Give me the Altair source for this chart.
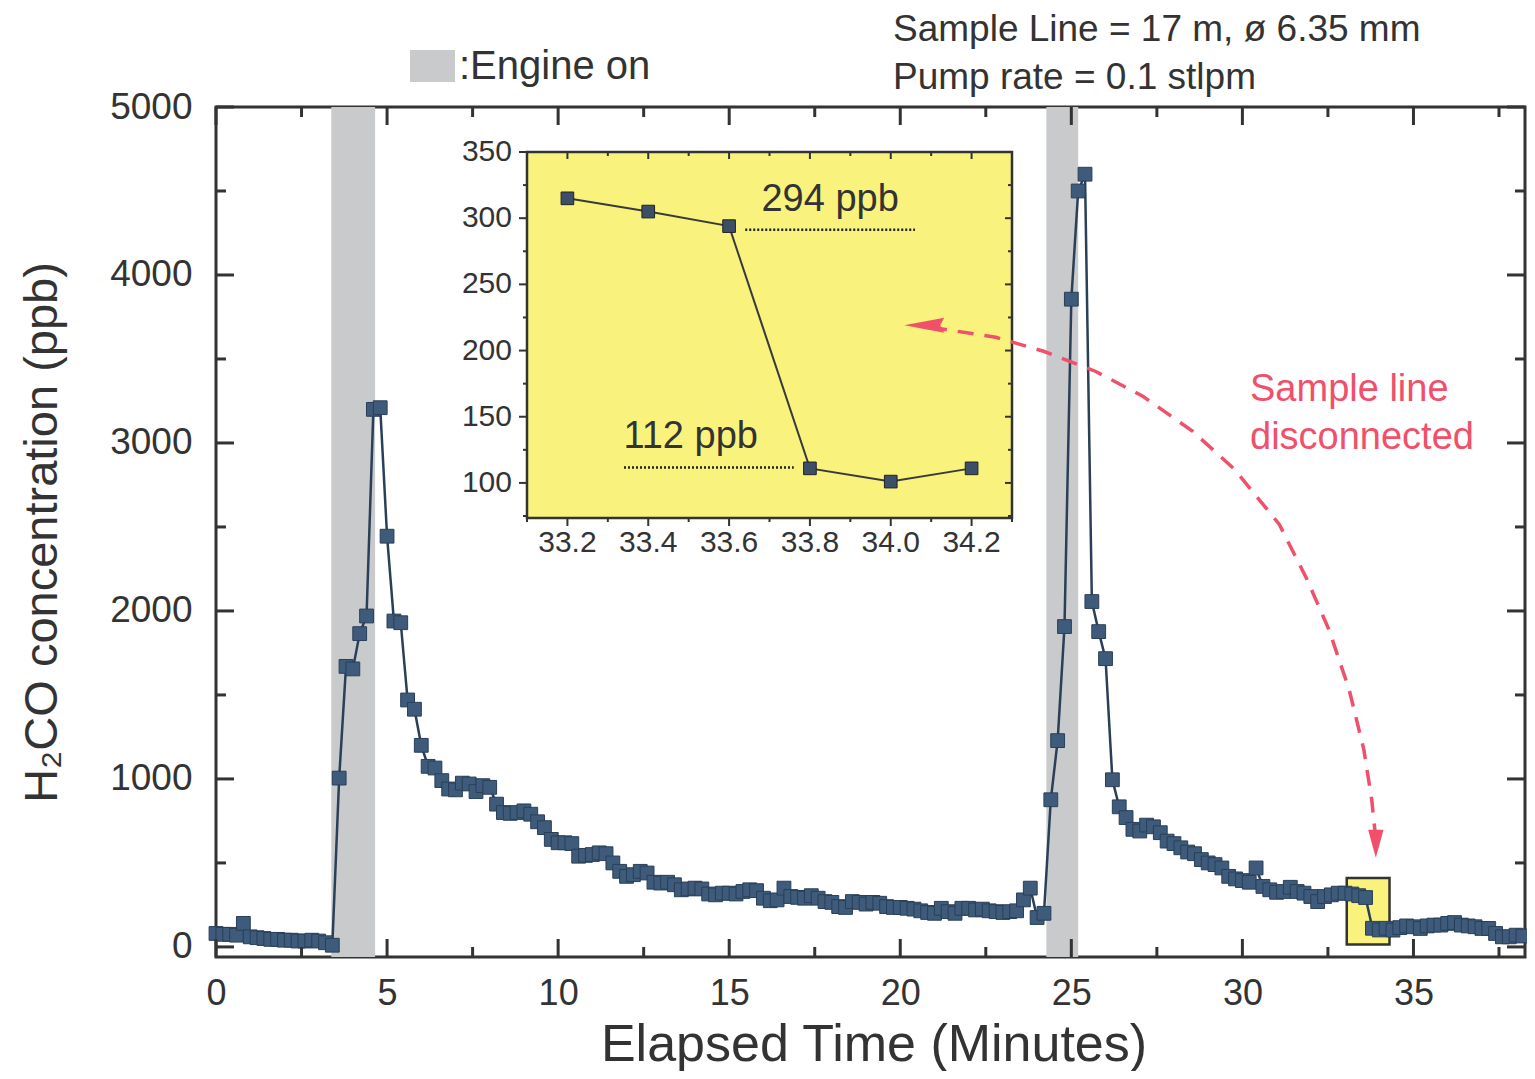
import altair as alt
import pandas as pd

# ---------------- data ----------------
time_min = [
    0.0, 0.2, 0.4, 0.6, 0.8, 1.0, 1.2, 1.4, 1.6, 1.8, 2.0, 2.2, 2.4, 2.6, 2.8, 3.0, 3.2, 3.4, 3.6, 3.8,
    4.0, 4.2, 4.4, 4.6, 4.8, 5.0, 5.2, 5.4, 5.6, 5.8, 6.0, 6.2, 6.4, 6.6, 6.8, 7.0, 7.2, 7.4, 7.6, 7.8,
    8.0, 8.2, 8.4, 8.6, 8.8, 9.0, 9.2, 9.4, 9.6, 9.8, 10.0, 10.2, 10.4, 10.6, 10.8, 11.0, 11.2, 11.4, 11.6, 11.8,
    12.0, 12.2, 12.4, 12.6, 12.8, 13.0, 13.2, 13.4, 13.6, 13.8, 14.0, 14.2, 14.4, 14.6, 14.8, 15.0, 15.2, 15.4, 15.6, 15.8,
    16.0, 16.2, 16.4, 16.6, 16.8, 17.0, 17.2, 17.4, 17.6, 17.8, 18.0, 18.2, 18.4, 18.6, 18.8, 19.0, 19.2, 19.4, 19.6, 19.8,
    20.0, 20.2, 20.4, 20.6, 20.8, 21.0, 21.2, 21.4, 21.6, 21.8, 22.0, 22.2, 22.4, 22.6, 22.8, 23.0, 23.2, 23.4, 23.6, 23.8,
    24.0, 24.2, 24.4, 24.6, 24.8, 25.0, 25.2, 25.4, 25.6, 25.8, 26.0, 26.2, 26.4, 26.6, 26.8, 27.0, 27.2, 27.4, 27.6, 27.8,
    28.0, 28.2, 28.4, 28.6, 28.8, 29.0, 29.2, 29.4, 29.6, 29.8, 30.0, 30.2, 30.4, 30.6, 30.8, 31.0, 31.2, 31.4, 31.6, 31.8,
    32.0, 32.2, 32.4, 32.6, 32.8, 33.0, 33.2, 33.4, 33.6, 33.8, 34.0, 34.2, 34.4, 34.6, 34.8, 35.0, 35.2, 35.4, 35.6, 35.8,
    36.0, 36.2, 36.4, 36.6, 36.8, 37.0, 37.2, 37.4, 37.6, 37.8, 38.0, 38.2,
]
h2co_ppb = [
    80, 75, 75, 70, 140, 60, 55, 50, 45, 45, 40, 40, 35, 35, 40, 35, 25, 10, 1005, 1670,
    1655, 1865, 1970, 3200, 3210, 2445, 1940, 1930, 1470, 1415, 1200, 1075, 1065, 990, 940, 935, 975, 970, 925, 960,
    950, 850, 800, 795, 800, 810, 790, 745, 710, 640, 620, 620, 615, 540, 545, 550, 560, 555, 500, 450,
    420, 430, 450, 440, 385, 380, 385, 370, 340, 345, 350, 345, 315, 310, 320, 320, 315, 330, 340, 335,
    290, 275, 280, 350, 300, 295, 290, 305, 290, 270, 265, 240, 235, 270, 265, 255, 265, 260, 240, 235,
    235, 230, 225, 215, 205, 200, 230, 210, 200, 230, 230, 220, 225, 215, 210, 205, 210, 215, 280, 350,
    175, 200, 876, 1228, 1907, 3856, 4500, 4600, 2056, 1877, 1716, 995, 834, 770, 700, 690, 725, 715, 680, 630,
    615, 590, 565, 555, 520, 500, 490, 470, 420, 405, 395, 385, 470, 360, 340, 325, 330, 355, 330, 320,
    300, 270, 300, 310, 320, 320, 315, 305, 294, 111, 101, 111, 100, 115, 125, 120, 110, 125, 130, 130,
    140, 145, 130, 125, 120, 110, 110, 80, 60, 60, 70, 65,
]

engine_on_start = [3.37, 24.27]
engine_on_end = [4.65, 25.20]

zoom_box_x = [33.05, 34.30]
zoom_box_y = [15, 410]

inset_time = [33.2, 33.4, 33.6, 33.8, 34.0, 34.2]
inset_ppb = [315, 305, 294, 111, 101, 111]

inset_ref_labels = ["294 ppb", "112 ppb"]
inset_ref_label_x = [33.85, 33.505]
inset_ref_label_y = [313.5, 134.7]
inset_ref_line_x0 = [33.64, 33.34]
inset_ref_line_x1 = [34.06, 33.76]
inset_ref_line_y = [291.3, 111.6]

main_x_ticks = [0, 5, 10, 15, 20, 25, 30, 35]
main_x_minor = [2.5, 7.5, 12.5, 17.5, 22.5, 27.5, 32.5, 37.5]
main_y_ticks = [0, 1000, 2000, 3000, 4000, 5000]
main_y_minor = [500, 1500, 2500, 3500, 4500]

inset_x_ticks = [33.2, 33.4, 33.6, 33.8, 34.0, 34.2]
inset_x_tick_labels = ["33.2", "33.4", "33.6", "33.8", "34.0", "34.2"]
inset_x_minor = [33.1, 33.3, 33.5, 33.7, 33.9, 34.1, 34.3]
inset_y_ticks = [100, 150, 200, 250, 300, 350]
inset_y_tick_labels = ["100", "150", "200", "250", "300", "350"]
inset_y_minor = [75, 125, 175, 225, 275, 325]

arrow_x = [20.90, 22.79, 24.19, 25.70, 27.09, 28.55, 29.77, 31.08, 31.89, 32.53, 33.12, 33.55, 33.78, 33.90]
arrow_y = [3689, 3629, 3546, 3427, 3278, 3069, 2843, 2515, 2187, 1889, 1532, 1174, 876, 638]
arrowhead_x = [20.70, 33.90]
arrowhead_y = [3701, 614]

# ---------------- layout / style ----------------
W, H = 1309, 850
FONT = "Liberation Sans"
INK = "#333333"
SERIES = "#3e5b7b"
SERIES_EDGE = "#2a3f58"
RED = "#F0506A"
GRAY = "#C9CACB"
YELLOW = "#F9F37E"

xs = alt.Scale(domain=[0, 38.26], nice=False, zero=False)
ys = alt.Scale(domain=[-60, 5000], nice=False, zero=False)
xi = alt.Scale(domain=[33.1, 34.3], range=[311, 796], nice=False, zero=False)
yi = alt.Scale(domain=[73.5, 350], range=[411, 45], nice=False, zero=False)

main_df = pd.DataFrame({"t": time_min, "c": h2co_ppb})
bands_df = pd.DataFrame({"s": engine_on_start, "e": engine_on_end})
box_df = pd.DataFrame({"x0": [zoom_box_x[0]], "x1": [zoom_box_x[1]], "y0": [zoom_box_y[0]], "y1": [zoom_box_y[1]]})
inset_df = pd.DataFrame({"t": inset_time, "c": inset_ppb})

bands = alt.Chart(bands_df).mark_rect(color=GRAY).encode(
    x=alt.X("s:Q", scale=xs, axis=None), x2="e:Q", y=alt.value(0), y2=alt.value(H)
)

zoom_box = alt.Chart(box_df).mark_rect(fill=YELLOW, stroke=INK, strokeWidth=2.5).encode(
    x=alt.X("x0:Q", scale=xs, axis=None), x2="x1:Q",
    y=alt.Y("y0:Q", scale=ys, axis=None), y2="y1:Q",
)

main_line = alt.Chart(main_df).mark_line(color=SERIES_EDGE, strokeWidth=2.5).encode(
    x=alt.X("t:Q", scale=xs, axis=alt.Axis(
        values=main_x_ticks, format="d", title="Elapsed Time (Minutes)", ticks=False, tickSize=0, domain=False,
        grid=False, labelFontSize=36, labelPadding=36, labelBaseline="middle", labelFlush=False,
        labelColor=INK, labelFont=FONT, titleFont=FONT, titleFontSize=52, titleFontWeight="normal",
        titleColor=INK, titleBaseline="alphabetic", titleY=103, titleX=W / 2 + 3)),
    y=alt.Y("c:Q", scale=ys, axis=alt.Axis(
        values=main_y_ticks, format="d", title="H₂CO concentration (ppb)", ticks=False, tickSize=0, domain=False,
        grid=False, labelFontSize=37, labelPadding=24, labelFlush=False, labelColor=INK, labelFont=FONT,
        titleFont=FONT, titleFontSize=47, titleFontWeight="normal", titleColor=INK,
        titleAngle=270, titleAlign="center", titleBaseline="alphabetic", titleX=-160, titleY=425)),
)

main_pts = alt.Chart(main_df).mark_point(
    shape="square", filled=True, size=190, color=SERIES, stroke=SERIES_EDGE, strokeWidth=1, opacity=1
).encode(x=alt.X("t:Q", scale=xs, axis=None), y=alt.Y("c:Q", scale=ys, axis=None))


def xticks(vals, scale, y0, y1, width=3):
    return alt.Chart(pd.DataFrame({"v": vals})).mark_rule(color=INK, strokeWidth=width).encode(
        x=alt.X("v:Q", scale=scale, axis=None), y=alt.value(y0), y2=alt.value(y1))


def yticks(vals, scale, x0, x1, width=3):
    return alt.Chart(pd.DataFrame({"v": vals})).mark_rule(color=INK, strokeWidth=width).encode(
        y=alt.Y("v:Q", scale=scale, axis=None), x=alt.value(x0), x2=alt.value(x1))


main_ticks = [
    xticks(main_x_ticks, xs, H, H - 18), xticks(main_x_minor, xs, H, H - 10),
    xticks(main_x_ticks, xs, 0, 18), xticks(main_x_minor, xs, 0, 10),
    yticks(main_y_ticks, ys, 0, 18), yticks(main_y_minor, ys, 0, 10),
    yticks(main_y_ticks, ys, W, W - 18), yticks(main_y_minor, ys, W, W - 10),
]

# ---------------- inset ----------------
inset_bg = alt.Chart(pd.DataFrame({"x0": [33.1], "x1": [34.3], "y0": [73.5], "y1": [350]})).mark_rect(
    fill=YELLOW, stroke=INK, strokeWidth=2.5
).encode(x=alt.X("x0:Q", scale=xi, axis=None), x2="x1:Q", y=alt.Y("y0:Q", scale=yi, axis=None), y2="y1:Q")

inset_ticks = [
    xticks(inset_x_ticks, xi, 411, 419, 2), xticks(inset_x_minor, xi, 411, 415, 2),
    xticks(inset_x_ticks, xi, 45, 52, 2), xticks(inset_x_minor, xi, 45, 49, 2),
    yticks(inset_y_ticks, yi, 311, 303, 2), yticks(inset_y_minor, yi, 311, 307, 2),
    yticks(inset_y_ticks, yi, 796, 789, 2), yticks(inset_y_minor, yi, 796, 792, 2),
]

inset_xlab = alt.Chart(pd.DataFrame({"v": inset_x_ticks, "lab": inset_x_tick_labels})).mark_text(
    font=FONT, fontSize=30, color=INK, align="center", baseline="middle"
).encode(x=alt.X("v:Q", scale=xi, axis=None), y=alt.value(436), text="lab:N")

inset_ylab = alt.Chart(pd.DataFrame({"v": inset_y_ticks, "lab": inset_y_tick_labels})).mark_text(
    font=FONT, fontSize=30, color=INK, align="right", baseline="middle"
).encode(y=alt.Y("v:Q", scale=yi, axis=None), x=alt.value(296), text="lab:N")

ref_df = pd.DataFrame({"x0": inset_ref_line_x0, "x1": inset_ref_line_x1, "y": inset_ref_line_y,
                       "lx": inset_ref_label_x, "ly": inset_ref_label_y, "lab": inset_ref_labels})
inset_ref_lines = alt.Chart(ref_df).mark_rule(color="#222222", strokeWidth=2.5, strokeDash=[2, 2]).encode(
    x=alt.X("x0:Q", scale=xi, axis=None), x2="x1:Q", y=alt.Y("y:Q", scale=yi, axis=None))
inset_ref_text = alt.Chart(ref_df).mark_text(font=FONT, fontSize=38, color=INK, align="center",
                                              baseline="middle").encode(
    x=alt.X("lx:Q", scale=xi, axis=None), y=alt.Y("ly:Q", scale=yi, axis=None), text="lab:N")

inset_line = alt.Chart(inset_df).mark_line(color="#3a3a3a", strokeWidth=2).encode(
    x=alt.X("t:Q", scale=xi, axis=None), y=alt.Y("c:Q", scale=yi, axis=None))
inset_pts = alt.Chart(inset_df).mark_point(
    shape="square", filled=True, size=160, color="#3d4f66", stroke="#222", strokeWidth=1, opacity=1
).encode(x=alt.X("t:Q", scale=xi, axis=None), y=alt.Y("c:Q", scale=yi, axis=None))

# ---------------- annotations ----------------
arrow_df = pd.DataFrame({"x": arrow_x, "y": arrow_y, "i": list(range(len(arrow_x)))})
arrow = alt.Chart(arrow_df).mark_line(color=RED, strokeWidth=3.5, strokeDash=[16, 11]).encode(
    x=alt.X("x:Q", scale=xs, axis=None), y=alt.Y("y:Q", scale=ys, axis=None), order="i:Q")

head_left = alt.Chart(pd.DataFrame({"x": [arrowhead_x[0]], "y": [arrowhead_y[0]]})).mark_point(
    shape="M-1,0L1,-0.375L0.8,0L1,0.375Z", filled=True, size=1600, color=RED, opacity=1
).encode(x=alt.X("x:Q", scale=xs, axis=None), y=alt.Y("y:Q", scale=ys, axis=None))
head_down = alt.Chart(pd.DataFrame({"x": [arrowhead_x[1]], "y": [arrowhead_y[1]]})).mark_point(
    shape="M0,1L-0.55,-1L0.55,-1Z", filled=True, size=784, color=RED, opacity=1
).encode(x=alt.X("x:Q", scale=xs, axis=None), y=alt.Y("y:Q", scale=ys, axis=None))

red_text = alt.Chart(pd.DataFrame({"lab": ["Sample line", "disconnected"], "row": [0, 1]})).mark_text(
    font=FONT, fontSize=38, color=RED, align="left", baseline="middle"
).encode(x=alt.value(1034), y=alt.value(283), yOffset=alt.YOffset("row:Q", scale=alt.Scale(domain=[0, 1], range=[0, 48])),
         text="lab:N")

top_text = alt.Chart(pd.DataFrame({"lab": ["Sample Line = 17 m, ø 6.35 mm", "Pump rate = 0.1 stlpm"],
                                   "row": [0, 1]})).mark_text(
    font=FONT, fontSize=37, color=INK, align="left", baseline="middle"
).encode(x=alt.value(677), y=alt.value(-77),
         yOffset=alt.YOffset("row:Q", scale=alt.Scale(domain=[0, 1], range=[0, 50])), text="lab:N")

legend_box = alt.Chart(pd.DataFrame({"k": [0]})).mark_rect(color=GRAY).encode(
    x=alt.value(194), x2=alt.value(239), y=alt.value(-57), y2=alt.value(-25))
legend_text = alt.Chart(pd.DataFrame({"lab": [":Engine on"]})).mark_text(
    font=FONT, fontSize=40, color=INK, align="left", baseline="middle"
).encode(x=alt.value(243), y=alt.value(-40), text="lab:N")

layers = [bands, zoom_box, main_line, main_pts] + main_ticks + [
    inset_bg] + inset_ticks + [inset_xlab, inset_ylab, inset_ref_lines, inset_ref_text, inset_line, inset_pts,
                                arrow, head_left, head_down, red_text, top_text, legend_box, legend_text]

chart = alt.layer(*layers).resolve_scale(
    x="independent", y="independent"
).properties(
    width=W, height=H,
    padding={"left": 208, "top": 99, "right": 2, "bottom": 114},
    autosize=alt.AutoSizeParams(type="none"),
    background="white",
).configure(font=FONT).configure_view(stroke=INK, strokeWidth=3)

chart.save("out.html", embed_options={"renderer": "svg", "actions": False})
